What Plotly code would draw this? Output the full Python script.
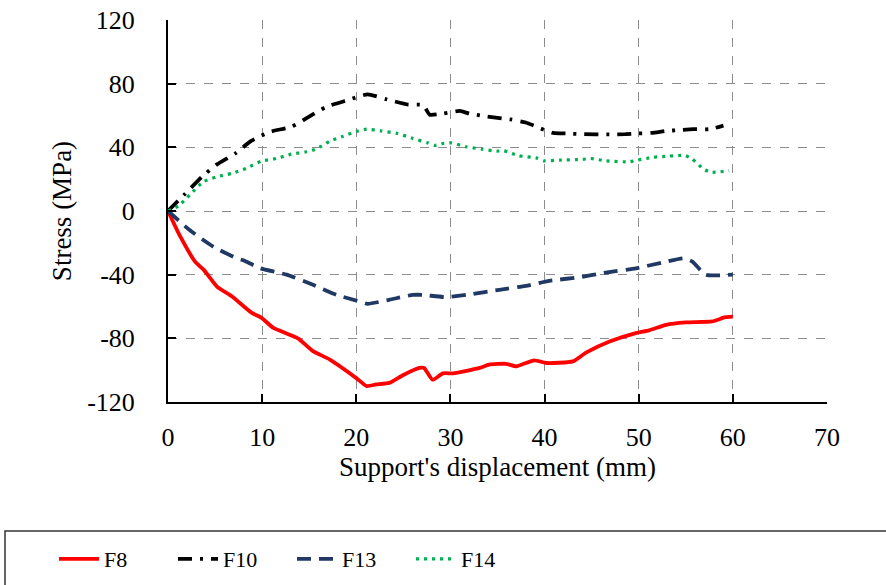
import plotly.graph_objects as go

# ---- data ----
f8_x = [0, 1.3, 2.9, 3.8, 5.2, 6.8, 8.9, 9.9, 11.2, 13.8, 15.4, 17.2, 20, 21.1, 22.1, 23.5, 25,
        26.7, 27.2, 28.1, 29.2, 30.3, 33.1, 34.1, 35.9, 37, 38.9, 40.2, 43, 44.4, 46.9, 49.7,
        51.1, 52.9, 55, 57.8, 59.2, 60]
f8_y = [0, -16, -32, -37, -47.5, -53.7, -64, -67, -73.5, -80, -88, -93.4, -105, -110, -109, -108,
        -103, -98.6, -98.6, -106, -102, -102, -98.6, -96.5, -96, -97.6, -93.8, -95.5, -94.5, -89,
        -82, -76.7, -75, -71.5, -70, -69.4, -66.7, -66.3]

f10_x = [0, 1.8, 3.6, 5.2, 7.1, 8.8, 10.8, 13.1, 14.9, 16.8, 19, 21.2, 23.2, 25.5, 27.1, 27.8,
         29.2, 31, 32, 33.6, 35.6, 36.4, 38, 39.6, 40.9, 42.3, 44, 46.9, 48.6, 49.9, 51.4, 52.9,
         54.1, 55.8, 57.5, 59]
f10_y = [0, 10.7, 21.5, 29.3, 36, 43.9, 49.7, 52.9, 59, 65.4, 69.5, 73.3, 70.2, 66.9, 66.5, 60.5,
         61.2, 62.9, 61.2, 59.6, 58.1, 57.5, 55.6, 51.8, 49.1, 48.7, 48.3, 48.1, 48.3, 48.7, 49.1,
         50.3, 50.8, 51.4, 51.4, 53.6]

f13_x = [0, 2.3, 4.8, 7.3, 8, 9.8, 12.6, 15.4, 17.9, 20.4, 21.2, 23.5, 26, 27.1, 29.5, 31.7, 35.2,
         38, 40.5, 43.7, 46.5, 49.7, 52.5, 54.8, 55.7, 57.1, 60]
f13_y = [0, -12, -22.4, -29.7, -31, -36, -40, -46.4, -52.7, -56.9, -58.3, -55.8, -52.7, -52.7,
         -54.1, -52.7, -49.5, -47, -43.9, -41.6, -38.7, -36, -32.4, -29.7, -31.8, -40, -40]

f14_x = [0, 1.1, 2.3, 3.75, 5.2, 6.75, 8.3, 9.9, 11.5, 13.1, 14.7, 15.6, 16.3, 17.2, 18.6, 20.2,
         21.1, 22.6, 24.4, 26, 27.6, 28.3, 29.2, 30.1, 31.7, 33.3, 34.9, 35.7, 37.3, 39.1, 39.9,
         41.6, 44, 44.9, 46.5, 49, 49.9, 51.5, 53.2, 54.9, 55.7, 56.9, 57.7, 59.6]
f14_y = [0, 3.1, 10, 18.4, 21.5, 23.6, 26.8, 31.3, 33, 35.7, 37.2, 38.7, 40.8, 43.9, 47, 50.3,
         51.4, 50.3, 48.7, 45.6, 42.8, 41.2, 42.4, 42.8, 40.3, 38.9, 37.6, 37.8, 34.7, 33.4, 31.5,
         32, 32.4, 33, 31.5, 30.9, 32, 33.7, 34.5, 34.9, 32.6, 26.3, 24.3, 25.3]

x_ticks = [0, 10, 20, 30, 40, 50, 60, 70]
y_ticks = [-120, -80, -40, 0, 40, 80, 120]

FONT = "Liberation Serif"

fig = go.Figure()
series = [
    ("F8", f8_x, f8_y, "#ff0000", "solid", 3.8),
    ("F10", f10_x, f10_y, "#000000", "14px,8px,3px,8px", 3.8),
    ("F13", f13_x, f13_y, "#1f3864", "14px,8px", 3.8),
    ("F14", f14_x, f14_y, "#00b050", "3px,5px", 3.2),
]
for name, xs, ys, col, dash, w in series:
    fig.add_trace(go.Scatter(x=xs, y=ys, name=name, mode="lines",
                             line=dict(color=col, dash=dash, width=w,
                                       shape="spline", smoothing=0.5)))

L, R, T, B = 168, 59, 20, 183
W, H = 886, 585
pw, ph = W - L - R, H - T - B
bottom = H - B


def py(v):
    return (bottom - v) / ph


def px(v):
    return (v - L) / pw


axis_common = dict(showline=True, linecolor="black", linewidth=2,
                   showgrid=True, gridcolor="#8c8c8c", griddash="dash", gridwidth=1,
                   ticks="inside", ticklen=8, tickwidth=2, tickcolor="black",
                   zeroline=False, tickfont=dict(family=FONT, size=26, color="black"))

fig.update_xaxes(range=[0, 70], tickvals=x_ticks, ticktext=[str(v) for v in x_ticks],
                 ticklabelstandoff=11,
                 title=dict(text="Support's displacement (mm)", standoff=6,
                            font=dict(family=FONT, size=27, color="black")),
                 **axis_common)
fig.update_yaxes(range=[-120, 120], tickvals=y_ticks, ticktext=[str(v) for v in y_ticks],
                 ticklabelstandoff=26,
                 title=dict(text="Stress (MPa)", standoff=8,
                            font=dict(family=FONT, size=27, color="black")),
                 **axis_common)

# legend frame
fig.add_shape(type="rect", xref="paper", yref="paper",
              x0=px(5), x1=px(892), y0=py(600), y1=py(531),
              line=dict(color="#333333", width=1.5), fillcolor="rgba(0,0,0,0)")

fig.update_layout(
    width=W, height=H,
    margin=dict(l=L, r=R, t=T, b=B, autoexpand=False),
    paper_bgcolor="white", plot_bgcolor="white",
    font=dict(family=FONT, color="black"),
    showlegend=True,
    legend=dict(orientation="h", x=px(54), xanchor="left",
                y=py(538), yanchor="top",
                entrywidth=64, entrywidthmode="pixels", itemwidth=40,
                font=dict(family=FONT, size=22, color="black"),
                bgcolor="rgba(0,0,0,0)", borderwidth=0),
)

fig.write_html("out.html")
